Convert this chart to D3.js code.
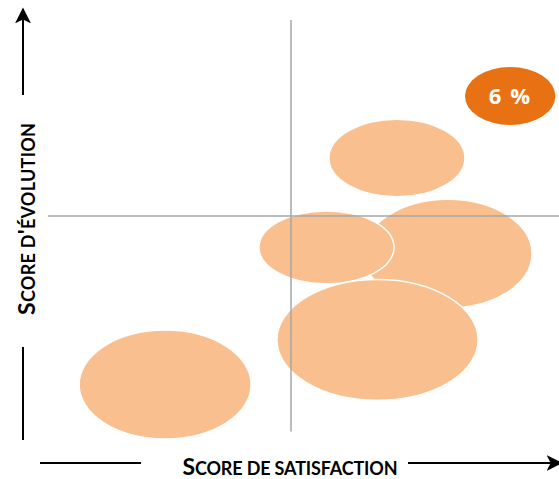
<!DOCTYPE html>
<html>
<head>
<meta charset="utf-8">
<script src="https://cdnjs.cloudflare.com/ajax/libs/d3/7.8.5/d3.min.js"></script>
<style>
  body { margin: 0; background: #fff; }
  svg { display: block; }
  text { font-family: Lato, "Open Sans", sans-serif; font-weight: bold; }
</style>
</head>
<body>
<script>
// bubble data: position on both scores, half-width and half-height in score units
const names   = ['a', 'b', 'c', 'd', 'e', 'f'];
const satisf  = [2.41, 7.18, 8.23, 5.73, 6.78, 9.51];
const evol    = [0.70, 6.48, 4.04, 4.20, 1.84, 8.06];
const spreadX = [1.77, 1.40, 1.73, 1.39, 2.07, 0.93];
const spreadY = [1.39, 0.99, 1.39, 0.93, 1.54, 0.74];
const labels  = ['', '', '', '', '', '6 %'];
const midScore = 5;

const width = 559, height = 479;

const xScale = d3.scaleLinear().domain([0, 10]).range([48, 534]);
const yScale = d3.scaleLinear().domain([0, 10]).range([412, 20]);

const svg = d3.select('body')
  .append('svg')
  .attr('width', width)
  .attr('height', height);

const defs = svg.append('defs');
defs.append('marker')
  .attr('id', 'arrow')
  .attr('viewBox', '0 0 10 10')
  .attr('refX', 9)
  .attr('refY', 5)
  .attr('markerWidth', 8)
  .attr('markerHeight', 8)
  .attr('markerUnits', 'strokeWidth')
  .attr('orient', 'auto')
  .append('path')
  .attr('d', 'M0,0 L10,5 L0,10 L2.5,5 Z')
  .attr('fill', '#000');

const data = names.map((n, i) => ({
  name: n, x: satisf[i], y: evol[i], sx: spreadX[i], sy: spreadY[i], label: labels[i]
}));

// bubbles
const bubbles = svg.append('g');
bubbles.selectAll('ellipse')
  .data(data)
  .enter()
  .append('ellipse')
  .attr('cx', d => xScale(d.x))
  .attr('cy', d => yScale(d.y))
  .attr('rx', d => xScale(d.sx) - xScale(0))
  .attr('ry', d => yScale(0) - yScale(d.sy))
  .attr('fill', d => d.label ? '#E87213' : '#F9BF8E')
  .attr('stroke', d => d.label ? 'none' : '#fff')
  .attr('stroke-width', 1.5);

bubbles.selectAll('text')
  .data(data.filter(d => d.label))
  .enter()
  .append('text')
  .attr('x', d => xScale(d.x))
  .attr('y', d => yScale(d.y))
  .attr('dy', '0.36em')
  .attr('text-anchor', 'middle')
  .attr('fill', '#fff')
  .style('font-family', '"Open Sans", sans-serif')
  .style('font-size', '22px')
  .style('letter-spacing', '1.5px')
  .text(d => d.label);

// quadrant lines
svg.append('line')
  .attr('x1', xScale(midScore)).attr('x2', xScale(midScore))
  .attr('y1', yScale(10)).attr('y2', yScale(-0.5))
  .attr('stroke', '#A6A6A6')
  .attr('stroke-width', 1.5);
svg.append('line')
  .attr('x1', xScale(0)).attr('x2', width)
  .attr('y1', yScale(midScore)).attr('y2', yScale(midScore))
  .attr('stroke', '#A6A6A6')
  .attr('stroke-width', 1.5);

// axis arrows
const axes = svg.append('g').attr('stroke', '#000').attr('stroke-width', 2);
axes.append('line').attr('x1', 23).attr('x2', 23).attr('y1', 95).attr('y2', 9)
  .attr('marker-end', 'url(#arrow)');
axes.append('line').attr('x1', 23).attr('x2', 23).attr('y1', 347).attr('y2', 440);
axes.append('line').attr('x1', 40).attr('x2', 141).attr('y1', 463).attr('y2', 463);
axes.append('line').attr('x1', 408).attr('x2', 561).attr('y1', 463).attr('y2', 463)
  .attr('marker-end', 'url(#arrow)');

// axis titles in small caps
function smallCaps(sel, parts) {
  parts.forEach(p => {
    sel.append('tspan')
      .style('font-size', p[1] ? '23px' : '18px')
      .text(p[0]);
  });
}

const xTitle = svg.append('text')
  .attr('x', 290)
  .attr('y', 475)
  .attr('text-anchor', 'middle')
  .attr('textLength', 215)
  .attr('lengthAdjust', 'spacing')
  .attr('fill', '#000');
smallCaps(xTitle, [['S', 1], ['CORE ', 0], ['DE ', 0], ['SATISFACTION', 0]]);

const yTitle = svg.append('text')
  .attr('transform', 'translate(35, 219) rotate(-90)')
  .attr('text-anchor', 'middle')
  .attr('textLength', 192)
  .attr('lengthAdjust', 'spacing')
  .attr('fill', '#000');
smallCaps(yTitle, [['S', 1], ['CORE D', 0], ['\'', 1], ['ÉVOLUTION', 0]]);
</script>
</body>
</html>
